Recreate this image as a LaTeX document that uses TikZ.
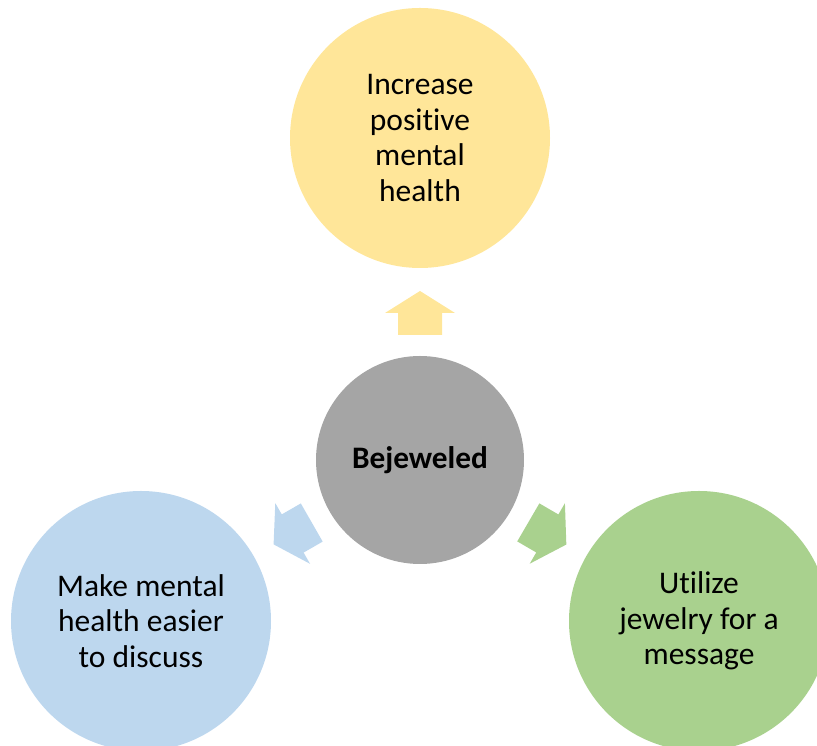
\documentclass[tikz,border=0pt]{standalone}
\usepackage{fontspec}
\setmainfont{Carlito}[Ligatures=CommonOff]
\usetikzlibrary{calc}
\definecolor{cyel}{HTML}{FFE699}
\definecolor{cgray}{HTML}{A5A5A5}
\definecolor{cblue}{HTML}{BDD7EE}
\definecolor{cgreen}{HTML}{A9D18E}
\tikzset{
  bigcirc/.style={circle, minimum size=260pt, inner sep=0pt, align=center,
    font=\fontsize{31.5}{35.5}\selectfont, text=black},
  hubcirc/.style={circle, minimum size=208pt, inner sep=0pt, fill=cgray,
    font=\fontsize{31.3}{35.5}\selectfont\bfseries, text=black},
  blockarrow/.pic={\fill (-22pt,-22pt) -- (0pt,-22pt) -- (0pt,-35pt) -- (22pt,0pt)
    -- (0pt,35pt) -- (0pt,22pt) -- (-22pt,22pt) -- cycle;}
}
\begin{document}
\begin{tikzpicture}[x=1pt,y=1pt]
\useasboundingbox (0,0) rectangle (817,746);
\node[hubcirc] (hub) at (420,286) {Bejeweled};
\node[bigcirc, fill=cyel] (top) at (420,608) {Increase\\positive\\mental\\health};
\node[bigcirc, fill=cblue] (left) at (141,125) {Make mental\\health easier\\to discuss};
\node[bigcirc, fill=cgreen] (right) at (699,125) {Utilize\\jewelry for a\\message};
\coordinate (a1) at ($(hub.center)!147pt!(top.center)$);
\coordinate (a2) at ($(hub.center)!147pt!(left.center)$);
\coordinate (a3) at ($(hub.center)!147pt!(right.center)$);
\pic[cyel, rotate=90] at (a1) {blockarrow};
\pic[cblue, rotate=209.8] at (a2) {blockarrow};
\pic[cgreen, rotate=-30.2] at (a3) {blockarrow};
\end{tikzpicture}
\end{document}
